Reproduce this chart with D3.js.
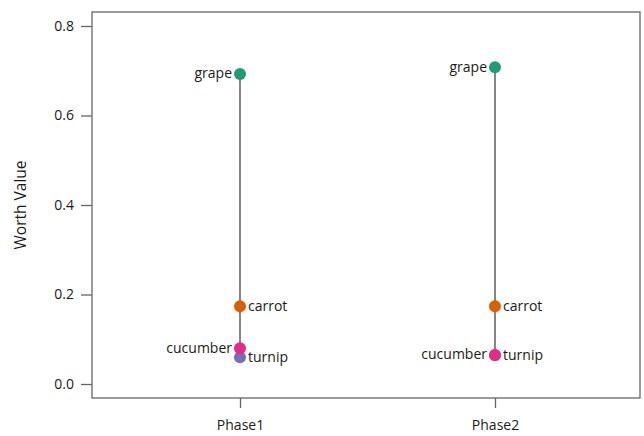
<!DOCTYPE html>
<html><head><meta charset="utf-8">
<script src="https://cdn.jsdelivr.net/npm/d3@7"></script>
<style>body{margin:0;background:#fff}svg{display:block}text{font-family:"Open Sans",sans-serif;fill:#1a1a1a}</style>
</head><body>
<svg id="c" width="644" height="436"></svg>
<script>
const phases = ["Phase1", "Phase2"];
const items = ["grape", "carrot", "turnip", "cucumber"];
const colors = ["#1b9e77", "#d95f02", "#7570b3", "#e7298a"];
const labelSide = ["left", "right", "right", "left"];
const phase1Values = [0.693, 0.174, 0.060, 0.080];
const phase2Values = [0.708, 0.174, 0.064, 0.065];
const yTicks = [0.0, 0.2, 0.4, 0.6, 0.8];

const svg = d3.select("#c");
const box = {left: 92, right: 640, top: 12, bottom: 398};
const x = d3.scalePoint().domain(phases).range([240, 495]);
const y = d3.scaleLinear().domain([0, 0.8]).range([384, 26]);

svg.append("rect").attr("x", box.left).attr("y", box.top)
  .attr("width", box.right - box.left).attr("height", box.bottom - box.top)
  .attr("fill", "none").attr("stroke", "#666").attr("stroke-width", 1.3);

const ya = svg.append("g").attr("transform", `translate(${box.left},0)`)
  .call(d3.axisLeft(y).tickValues(yTicks).tickFormat(d3.format(".1f")).tickSize(11).tickPadding(7));
ya.select(".domain").remove();
ya.selectAll("line").attr("stroke", "#666").attr("stroke-width", 1.3);
ya.selectAll("text").attr("font-size", 14).attr("fill", "#1a1a1a").attr("font-family", "'Open Sans',sans-serif");

const xa = svg.append("g").attr("transform", `translate(0,${box.bottom})`)
  .call(d3.axisBottom(x).tickSize(10).tickPadding(12));
xa.select(".domain").remove();
xa.selectAll("line").attr("stroke", "#666").attr("stroke-width", 1.3);
xa.selectAll("text").attr("font-size", 14).attr("fill", "#1a1a1a").attr("font-family", "'Open Sans',sans-serif");

svg.append("text").attr("transform", "translate(26,205) rotate(-90)")
  .attr("text-anchor", "middle").attr("font-size", 15.5).text("Worth Value");

const series = [phase1Values, phase2Values];
phases.forEach((p, pi) => {
  const vals = series[pi];
  const g = svg.append("g");
  g.append("line").attr("x1", x(p)).attr("x2", x(p))
    .attr("y1", y(d3.max(vals))).attr("y2", y(d3.min(vals)))
    .attr("stroke", "#444").attr("stroke-width", 1.3);
  items.forEach((it, i) => {
    g.append("circle").attr("cx", x(p)).attr("cy", y(vals[i])).attr("r", 6)
      .attr("fill", colors[i]);
  });
  items.forEach((it, i) => {
    const left = labelSide[i] === "left";
    g.append("text").attr("x", x(p) + (left ? -8 : 8)).attr("y", y(vals[i]))
      .attr("dy", "0.32em").attr("text-anchor", left ? "end" : "start")
      .attr("font-size", 14).text(it);
  });
});
</script>
</body></html>
